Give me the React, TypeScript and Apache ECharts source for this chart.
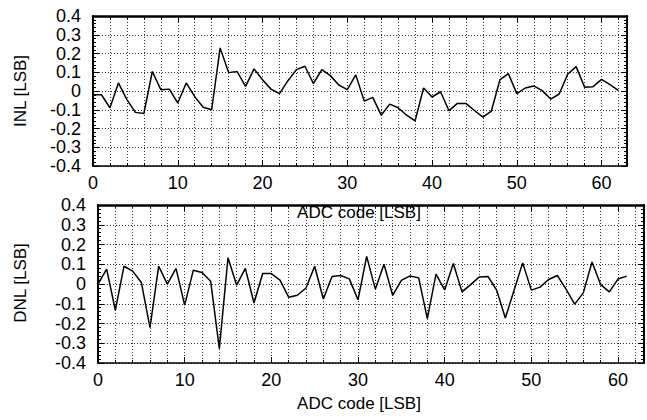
import React, { useEffect, useRef } from "react";
import * as echarts from "echarts";

// INL values for ADC codes 0..62
const inlValues = [
  -0.02, -0.02, -0.09, 0.043, -0.046, -0.114, -0.12, 0.104, 0.007, 0.01,
  -0.064, 0.043, -0.03, -0.087, -0.1, 0.23, 0.098, 0.104, 0.025, 0.118,
  0.06, 0.01, -0.014, 0.055, 0.114, 0.132, 0.04, 0.114, 0.082, 0.032,
  0.007, 0.086, -0.054, -0.034, -0.129, -0.07, -0.089, -0.129, -0.159, 0.016,
  -0.032, -0.004, -0.105, -0.066, -0.066, -0.104, -0.139, -0.107, 0.059, 0.093,
  -0.014, 0.016, 0.027, 0.002, -0.043, -0.016, 0.089, 0.13, 0.02, 0.023,
  0.062, 0.034, 0.002,
];

// DNL values for ADC codes 0..61
const dnlValues = [
  0.0, 0.075, -0.133, 0.09, 0.065, 0.008, -0.221, 0.09, -0.001, 0.079,
  -0.107, 0.07, 0.058, 0.014, -0.327, 0.133, -0.006, 0.079, -0.096, 0.053,
  0.053, 0.02, -0.067, -0.057, -0.02, 0.09, -0.076, 0.038, 0.043, 0.026,
  -0.08, 0.14, -0.026, 0.1, -0.057, 0.018, 0.041, 0.031, -0.175, 0.05,
  -0.03, 0.104, -0.04, -0.003, 0.036, 0.038, -0.031, -0.172, -0.033, 0.107,
  -0.031, -0.016, 0.023, 0.043, -0.026, -0.102, -0.045, 0.111, -0.003, -0.04,
  0.025, 0.04,
];

const xMin = 0;
const xMax = 63;
const yMin = -0.4;
const yMax = 0.4;
const xLabel = "ADC code [LSB]";
const inlLabel = "INL [LSB]";
const dnlLabel = "DNL [LSB]";

const FONT = "Liberation Sans";
const TICK_FS = 18;
const TITLE_FS = 17;

function toPairs(vals: number[]) {
  return vals.map((v, i) => [i, v]);
}

function xAxes(gridIndex: number) {
  const base = {
    gridIndex,
    type: "value" as const,
    min: xMin,
    max: xMax,
  };
  const dotted = { color: "#333", width: 1, type: [1, 2] };
  return [
    {
      ...base,
      position: "bottom",
      interval: 2,
      axisLine: { show: true, onZero: false, lineStyle: { color: "#000", width: 1.5 } },
      axisTick: { show: true, inside: true, length: 3, lineStyle: { color: "#000", width: 1 } },
      axisLabel: {
        show: true,
        margin: 8,
        color: "#000",
        fontSize: TICK_FS,
        fontFamily: FONT,
        formatter: (v: number) => (v % 10 === 0 ? String(v) : ""),
      },
      splitLine: { show: true, lineStyle: dotted },
    },
    {
      ...base,
      position: "bottom",
      interval: 10,
      axisLine: { show: false, onZero: false },
      axisTick: { show: true, inside: true, length: 6, lineStyle: { color: "#000", width: 1 } },
      axisLabel: { show: false },
      splitLine: { show: false },
    },
    {
      ...base,
      position: "top",
      interval: 2,
      axisLine: { show: true, onZero: false, lineStyle: { color: "#000", width: 2.5 } },
      axisTick: { show: true, inside: true, length: 3, lineStyle: { color: "#000", width: 1 } },
      axisLabel: { show: false },
      splitLine: { show: false },
    },
    {
      ...base,
      position: "top",
      interval: 10,
      axisLine: { show: false, onZero: false },
      axisTick: { show: true, inside: true, length: 6, lineStyle: { color: "#000", width: 1 } },
      axisLabel: { show: false },
      splitLine: { show: false },
    },
  ];
}

function yAxes(gridIndex: number) {
  const base = {
    gridIndex,
    type: "value" as const,
    min: yMin,
    max: yMax,
    interval: 0.1,
  };
  return [
    {
      ...base,
      position: "left",
      axisLine: { show: true, onZero: false, lineStyle: { color: "#000", width: 2 } },
      axisTick: { show: true, inside: true, length: 6, lineStyle: { color: "#000", width: 1 } },
      minorTick: { show: true, splitNumber: 5, length: 3, lineStyle: { color: "#000", width: 1 } },
      axisLabel: {
        show: true,
        margin: 12,
        color: "#000",
        fontSize: TICK_FS,
        fontFamily: FONT,
        formatter: (v: number) => (Math.abs(v) < 1e-9 ? "0" : v.toFixed(1)),
      },
      splitLine: { show: true, lineStyle: { color: "#333", width: 1, type: [1, 2] } },
    },
    {
      ...base,
      position: "right",
      axisLine: { show: true, onZero: false, lineStyle: { color: "#000", width: 2 } },
      axisTick: { show: true, inside: true, length: 6, lineStyle: { color: "#000", width: 1 } },
      minorTick: { show: true, splitNumber: 5, length: 3, lineStyle: { color: "#000", width: 1 } },
      axisLabel: { show: false },
      splitLine: { show: false },
    },
  ];
}

export default function App() {
  const ref = useRef<HTMLDivElement>(null);
  useEffect(() => {
    if (!ref.current) return;
    const chart = echarts.init(ref.current, undefined, { renderer: "svg" });
    const titleFont = `${TITLE_FS}px "${FONT}"`;
    const option = {
      animation: false,
      backgroundColor: "#fff",
      grid: [
        { left: 93, top: 16, width: 534, height: 150, containLabel: false },
        { left: 98, top: 205, width: 560, height: 158, containLabel: false },
      ],
      xAxis: [...xAxes(0), ...xAxes(1)],
      yAxis: [...yAxes(0), ...yAxes(1)],
      series: [
        {
          type: "line",
          xAxisIndex: 0,
          yAxisIndex: 0,
          data: toPairs(inlValues),
          showSymbol: false,
          symbol: "none",
          lineStyle: { color: "#000", width: 1.5 },
          z: 5,
        },
        {
          type: "line",
          xAxisIndex: 4,
          yAxisIndex: 2,
          data: toPairs(dnlValues),
          showSymbol: false,
          symbol: "none",
          lineStyle: { color: "#000", width: 1.5 },
          z: 5,
        },
      ],
      graphic: [
        {
          type: "text",
          x: 20,
          y: 91,
          rotation: Math.PI / 2,
          style: { text: inlLabel, font: titleFont, fill: "#000", align: "center", verticalAlign: "middle" },
        },
        {
          type: "text",
          x: 20,
          y: 283,
          rotation: Math.PI / 2,
          style: { text: dnlLabel, font: titleFont, fill: "#000", align: "center", verticalAlign: "middle" },
        },
        {
          type: "text",
          x: 359,
          y: 212,
          z: 100,
          style: { text: xLabel, font: titleFont, fill: "#000", align: "center", verticalAlign: "middle" },
        },
        {
          type: "text",
          x: 359,
          y: 403,
          style: { text: xLabel, font: titleFont, fill: "#000", align: "center", verticalAlign: "middle" },
        },
      ],
    };
    chart.setOption(option as any);
    return () => chart.dispose();
  }, []);
  return (
    <div
      ref={ref}
      style={{ position: "fixed", left: 0, top: 0, width: 647, height: 420 }}
    />
  );
}
